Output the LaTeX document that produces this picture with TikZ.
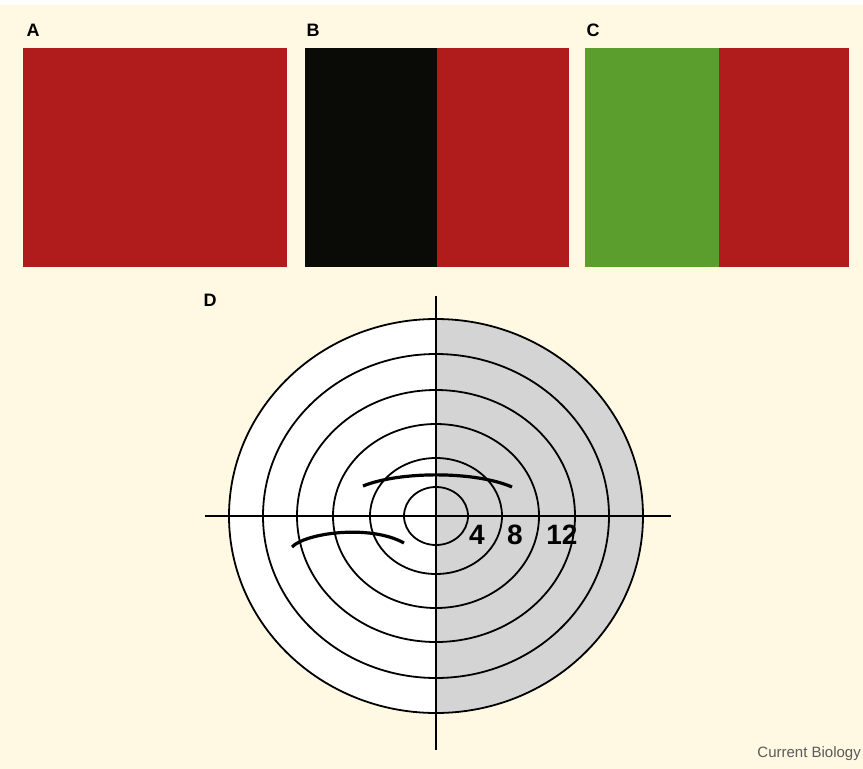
\documentclass[tikz,border=0pt]{standalone}
\usepackage{fontspec}
\setmainfont{Liberation Sans}
\usetikzlibrary{positioning}
\definecolor{paper}{RGB}{255,249,227}
\definecolor{cbred}{RGB}{176,28,28}
\definecolor{cbblack}{RGB}{10,10,6}
\definecolor{cbgreen}{RGB}{92,158,46}
\definecolor{cbgray}{RGB}{212,212,212}

\begin{document}
\begin{tikzpicture}[x=1pt,y=-1pt,
  panel/.style={font=\bfseries\fontsize{18}{18}\selectfont},
  ring/.style={line width=1.8pt},
  axis/.style={line width=1.8pt},
  stroke/.style={line width=3.2pt},
  ecc/.style={font=\bfseries\fontsize{28}{28}\selectfont}
]
\useasboundingbox (0,0) rectangle (863,769);
\fill[white] (0,0) rectangle (863,769);
\fill[paper] (0,5) rectangle (863,769);
% stimulus panels
\fill[cbred] (23,48) rectangle (287,267);
\fill[cbblack] (305,48) rectangle (437,267);
\fill[cbred] (437,48) rectangle (569,267);
\fill[cbgreen] (585,48) rectangle (719,267);
\fill[cbred] (719,48) rectangle (849,267);
\node[panel] (labA) at (33,30) {A};
\node[panel] (labB) at (313,30) {B};
\node[panel] (labC) at (593,30) {C};
\node[panel] (labD) at (210,300) {D};
% target
\coordinate (ctr) at (436,516);
\fill[white] (ctr) ellipse [x radius=207,y radius=197];
\begin{scope}
  \clip (436,300) rectangle (660,730);
  \fill[cbgray] (ctr) ellipse [x radius=207,y radius=197];
\end{scope}
\foreach \rx/\ry in {32/29,66/58,103/92,139/126,173/162,207/197}
  \draw[ring] (ctr) ellipse [x radius=\rx,y radius=\ry];
\coordinate (top) at (436,296);
\coordinate (bot) at (436,750);
\coordinate (lft) at (205,516);
\coordinate (rgt) at (671,516);
\draw[axis] (top) -- (bot);
\draw[axis] (lft) -- (rgt);
% arcs
\draw[stroke] (363,486) .. controls (400,471) and (475,471) .. (512,487);
\draw[stroke] (292,547) .. controls (305,533) and (370,524) .. (404,543);
\node[ecc] (e4) at (477,535) {4};
\node[ecc] (e8) at (515,535) {8};
\node[ecc] (e12) at (562,535) {12};
\node[anchor=base east,text=black!65,font=\fontsize{15}{15}\selectfont,inner sep=0pt] (credit) at (861,757) {Current Biology};
\end{tikzpicture}
\end{document}
